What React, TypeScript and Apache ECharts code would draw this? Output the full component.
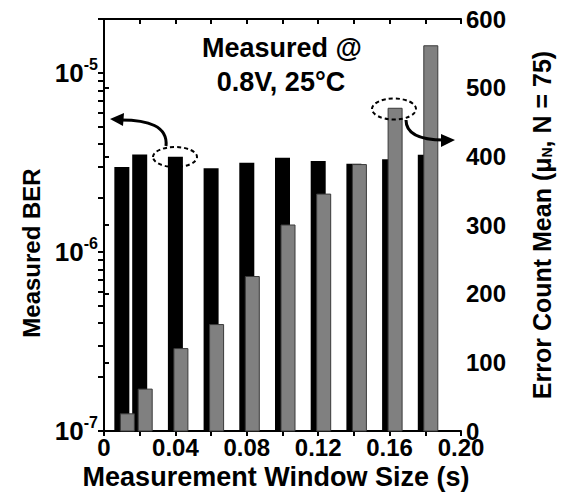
import React, { useEffect, useRef } from "react";
import * as echarts from "echarts";

// ---- data ----
const windowSizes = [0.01, 0.02, 0.04, 0.06, 0.08, 0.1, 0.12, 0.14, 0.16, 0.18];
const berValues = [2.98e-6, 3.5e-6, 3.4e-6, 2.93e-6, 3.15e-6, 3.36e-6, 3.22e-6, 3.11e-6, 3.29e-6, 3.49e-6];
const errorCountMeans = [25, 61, 120, 155, 225, 300, 345, 388, 470, 561];

const xTickValues = [0, 0.04, 0.08, 0.12, 0.16, 0.2];
const xTickLabels = ["0", "0.04", "0.08", "0.12", "0.16", "0.20"];
const berMin = 1e-7;
const berMax = 2e-5;
const berTickValues = [
  1e-7, 2e-7, 3e-7, 4e-7, 5e-7, 6e-7, 7e-7, 8e-7, 9e-7,
  1e-6, 2e-6, 3e-6, 4e-6, 5e-6, 6e-6, 7e-6, 8e-6, 9e-6,
  1e-5, 2e-5,
];
const berLabelValues = [1e-7, 1e-6, 1e-5];
const countMin = 0;
const countMax = 600;
const countInterval = 100;

const FONT = "'Liberation Sans', Arial, Helvetica, sans-serif";

export default function App() {
  const ref = useRef<HTMLDivElement>(null);

  useEffect(() => {
    if (!ref.current) return;
    const chart = echarts.init(ref.current, undefined, { renderer: "svg" });

    const mkLine = () => ({ show: true, lineStyle: { color: "#000", width: 2 } });

    const annotations: any[] = [
      {
        type: "text",
        x: 282,
        y: 48,
        style: { text: "Measured @", fill: "#000", font: `bold 27px ${FONT}`, textAlign: "center", textVerticalAlign: "middle" },
      },
      {
        type: "text",
        x: 281,
        y: 82,
        style: { text: "0.8V, 25°C", fill: "#000", font: `bold 27px ${FONT}`, textAlign: "center", textVerticalAlign: "middle" },
      },
      {
        type: "ellipse",
        shape: { cx: 175, cy: 157, rx: 22, ry: 10 },
        style: { fill: "none", stroke: "#000", lineWidth: 2, lineDash: [4, 3] },
        z: 10,
      },
      {
        type: "bezierCurve",
        shape: { x1: 166, y1: 146, cpx1: 168, cpy1: 126, cpx2: 148, cpy2: 120, x2: 121, y2: 120 },
        style: { fill: "none", stroke: "#000", lineWidth: 3 },
        z: 10,
      },
      { type: "polygon", shape: { points: [[110, 119], [124, 113], [123, 126]] }, style: { fill: "#000" }, z: 10 },
      {
        type: "ellipse",
        shape: { cx: 394, cy: 109, rx: 22, ry: 10.5 },
        style: { fill: "none", stroke: "#000", lineWidth: 2, lineDash: [4, 3] },
        z: 10,
      },
      {
        type: "bezierCurve",
        shape: { x1: 406, y1: 120, cpx1: 406, cpy1: 134, cpx2: 420, cpy2: 140, x2: 444, y2: 140 },
        style: { fill: "none", stroke: "#000", lineWidth: 3 },
        z: 10,
      },
      { type: "polygon", shape: { points: [[455, 140], [441, 134], [441, 147]] }, style: { fill: "#000" }, z: 10 },
    ];

    const option: any = {
      animation: false,
      textStyle: { fontFamily: FONT },
      grid: { left: 104, right: 103, top: 19, bottom: 70 },
      xAxis: [
        {
          type: "value",
          position: "bottom",
          min: 0,
          max: 0.2,
          interval: 0.02,
          axisLine: mkLine(),
          splitLine: { show: false },
          axisTick: { show: true, length: 5, lineStyle: { width: 2, color: "#000" } },
          axisLabel: {
            margin: 4,
            color: "#000",
            fontSize: 24,
            fontWeight: "bold",
            fontFamily: FONT,
            formatter: (v: number) => {
              const i = xTickValues.findIndex((t) => Math.abs(t - v) < 1e-9);
              return i >= 0 ? xTickLabels[i] : "";
            },
          },
          name: "Measurement Window Size (s)",
          nameLocation: "middle",
          nameGap: 32,
          nameTextStyle: { color: "#000", fontSize: 27, fontWeight: "bold", fontFamily: FONT, padding: [0, 13, 0, 0] },
        },
        {
          type: "value",
          position: "top",
          min: 0,
          max: 0.2,
          interval: 0.02,
          axisLine: mkLine(),
          splitLine: { show: false },
          axisTick: { show: true, inside: true, length: 5, lineStyle: { width: 2, color: "#000" } },
          axisLabel: { show: false },
        },
      ],
      yAxis: [
        {
          type: "log",
          position: "left",
          min: berMin,
          max: berMax,
          axisLine: mkLine(),
          splitLine: { show: false },
          axisTick: { show: true, length: 6, customValues: berTickValues, lineStyle: { width: 2, color: "#000" } },
          axisLabel: {
            margin: 6,
            color: "#000",
            fontFamily: FONT,
            customValues: berLabelValues,
            formatter: (v: number) => `{b|10}{s|${Math.round(Math.log10(v))}}`,
            rich: {
              b: { fontSize: 26, lineHeight: 33, fontWeight: "bold", fontFamily: FONT, color: "#000" },
              s: { fontSize: 16, lineHeight: 16, fontWeight: "bold", fontFamily: FONT, color: "#000", verticalAlign: "top" },
            },
          },
          name: "Measured BER",
          nameLocation: "middle",
          nameRotate: 90,
          nameGap: 56,
          nameTextStyle: { color: "#000", fontSize: 24, fontWeight: "bold", fontFamily: FONT, padding: [0, 56, 0, 0] },
        },
        {
          type: "value",
          position: "right",
          min: countMin,
          max: countMax,
          interval: countInterval,
          axisLine: mkLine(),
          splitLine: { show: false },
          axisTick: { show: true, length: 5, lineStyle: { width: 2, color: "#000" } },
          axisLabel: { margin: 5, color: "#000", fontSize: 24, fontWeight: "bold", fontFamily: FONT },
          name: "{t|Error Count Mean (μ}{u|N}{t|, N = 75)}",
          nameLocation: "middle",
          nameRotate: 90,
          nameGap: 68,
          nameTextStyle: {
            rich: {
              t: { fontSize: 25, fontWeight: "bold", fontFamily: FONT, color: "#000" },
              u: { fontSize: 14, fontWeight: "bold", fontFamily: FONT, color: "#000", verticalAlign: "bottom" },
            },
          },
        },
      ],
      series: [
        {
          type: "custom",
          name: "Measured BER",
          xAxisIndex: 0,
          yAxisIndex: 0,
          data: windowSizes.map((x, i) => [x, berValues[i]]),
          renderItem: (params: any, api: any) => {
            const x = api.value(0);
            const top = api.coord([x, api.value(1)]);
            const base = api.coord([x, berMin]);
            return {
              type: "rect",
              shape: { x: top[0] - 7.5, y: top[1], width: 15, height: base[1] - top[1] },
              style: { fill: "#000" },
            };
          },
          z: 2,
        },
        {
          type: "custom",
          name: "Error Count Mean",
          xAxisIndex: 0,
          yAxisIndex: 1,
          data: windowSizes.map((x, i) => [x, errorCountMeans[i]]),
          renderItem: (params: any, api: any) => {
            const x = api.value(0);
            const top = api.coord([x, api.value(1)]);
            const base = api.coord([x, countMin]);
            return {
              type: "rect",
              shape: { x: top[0] - 1.5, y: top[1], width: 14, height: base[1] - top[1] },
              style: { fill: "#808080", stroke: "#3a3a3a", lineWidth: 1 },
            };
          },
          z: 3,
        },
      ],
      graphic: annotations,
    };

    chart.setOption(option);
    return () => chart.dispose();
  }, []);

  return (
    <div ref={ref} style={{ position: "fixed", left: 0, top: 0, width: 564, height: 501, background: "#fff" }} />
  );
}
